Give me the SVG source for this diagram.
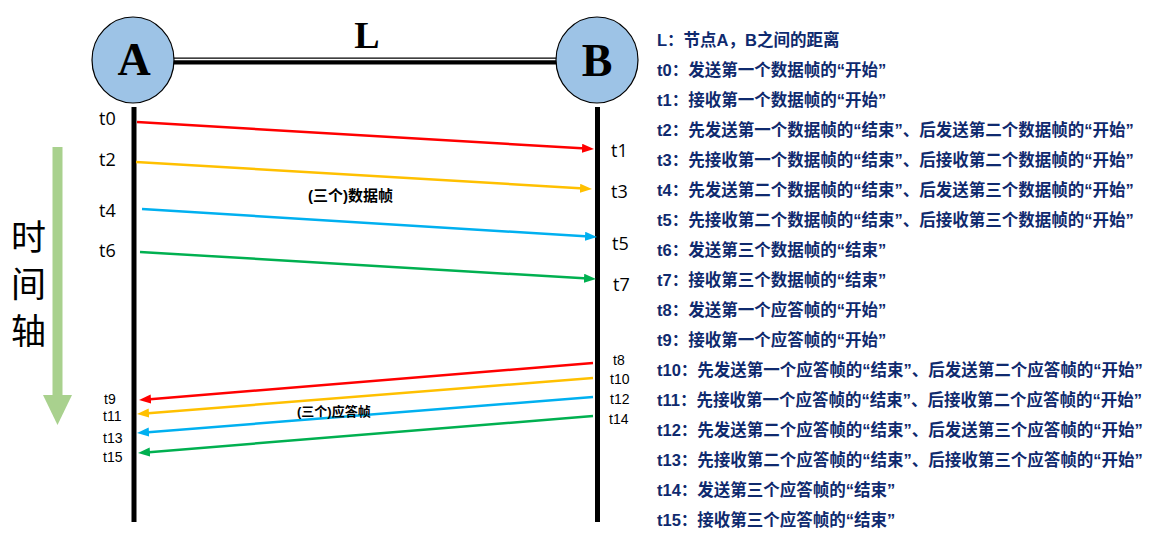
<svg xmlns="http://www.w3.org/2000/svg" width="1149" height="534" viewBox="0 0 1149 534">
<style>
.node{fill:#9DC3E6;stroke:#000;stroke-width:1.2}
.nl{font-family:"Liberation Serif",serif;font-weight:bold;fill:#000;text-anchor:middle}
.life{stroke:#000;stroke-width:5}
.arr{fill:none;stroke-width:2.5}
.tl{font-family:"Open Sans","Liberation Sans",sans-serif;fill:#000}
.big{font-size:18px}
.sm{font-family:"Liberation Sans",sans-serif;font-size:14px}
.mid{font-family:"Liberation Sans","Noto Sans CJK SC",sans-serif;font-weight:bold;fill:#000}
.leg{font-family:"Liberation Sans","Noto Sans CJK SC",sans-serif;font-weight:bold;font-size:16.5px;fill:#0f2a6e}
.axis{font-family:"Noto Sans CJK SC",sans-serif;font-size:35px;fill:#000;writing-mode:vertical-rl;letter-spacing:12px}
</style>
<defs>
<marker id="mr" markerUnits="userSpaceOnUse" markerWidth="12" markerHeight="10" refX="4" refY="4.5" orient="auto"><path d="M0,0 L12,4.5 L0,9 z" fill="#FF0000"/></marker>
<marker id="my" markerUnits="userSpaceOnUse" markerWidth="12" markerHeight="10" refX="4" refY="4.5" orient="auto"><path d="M0,0 L12,4.5 L0,9 z" fill="#FFC000"/></marker>
<marker id="mb" markerUnits="userSpaceOnUse" markerWidth="12" markerHeight="10" refX="4" refY="4.5" orient="auto"><path d="M0,0 L12,4.5 L0,9 z" fill="#00B0F0"/></marker>
<marker id="mg" markerUnits="userSpaceOnUse" markerWidth="12" markerHeight="10" refX="4" refY="4.5" orient="auto"><path d="M0,0 L12,4.5 L0,9 z" fill="#00B050"/></marker>
</defs>
<rect width="1149" height="534" fill="#fff"/>

<g id="time-axis">
<rect x="52.5" y="147" width="10" height="248" fill="#A9D18E"/>
<polygon points="43,395 72,395 57.5,425" fill="#A9D18E"/>
<text class="axis" x="28.5" y="219">时间轴</text>
</g>

<g id="link-L">
<line x1="172" y1="61" x2="557" y2="61" stroke="#000" stroke-width="7"/>
<line x1="172" y1="59.5" x2="557" y2="59.5" stroke="#fff" stroke-width="1.5"/>
<text class="nl" x="367" y="48" font-size="38">L</text>
</g>

<g id="lifelines">
<line class="life" x1="134" y1="107" x2="134" y2="522"/>
<line class="life" x1="597.5" y1="107" x2="597.5" y2="522"/>
</g>

<g id="nodeA">
<ellipse class="node" cx="133" cy="60" rx="41" ry="43"/>
<text class="nl" x="134" y="75" font-size="46">A</text>
</g>
<g id="nodeB">
<ellipse class="node" cx="597" cy="60" rx="41" ry="43"/>
<text class="nl" x="597" y="76" font-size="46">B</text>
</g>

<g id="connectors">
<path class="arr" stroke="#FF0000" marker-end="url(#mr)" d="M137,122 L586,148.5"/>
<path class="arr" stroke="#FFC000" marker-end="url(#my)" d="M136,162 L584,188.5"/>
<path class="arr" stroke="#00B0F0" marker-end="url(#mb)" d="M142,209 L589,236.5"/>
<path class="arr" stroke="#00B050" marker-end="url(#mg)" d="M140,252 L588,278.5"/>
<path class="arr" stroke="#FF0000" marker-end="url(#mr)" d="M593,363 L147,399.4"/>
<path class="arr" stroke="#FFC000" marker-end="url(#my)" d="M593,378 L145,413.4"/>
<path class="arr" stroke="#00B0F0" marker-end="url(#mb)" d="M593,397 L145,432.4"/>
<path class="arr" stroke="#00B050" marker-end="url(#mg)" d="M593,416 L146,452.4"/>
</g>

<g id="time-labels">
<text class="tl big" x="99" y="125">t0</text>
<text class="tl big" x="99" y="166">t2</text>
<text class="tl big" x="99" y="217">t4</text>
<text class="tl big" x="99" y="257">t6</text>
<text class="tl big" x="611" y="157">t1</text>
<text class="tl big" x="611" y="198">t3</text>
<text class="tl big" x="612" y="250">t5</text>
<text class="tl big" x="613" y="291">t7</text>
<text class="tl sm" x="104" y="403.5">t9</text>
<text class="tl sm" x="103" y="420.5">t11</text>
<text class="tl sm" x="103" y="443">t13</text>
<text class="tl sm" x="103" y="462">t15</text>
<text class="tl sm" x="613" y="365">t8</text>
<text class="tl sm" x="610" y="384">t10</text>
<text class="tl sm" x="610" y="404">t12</text>
<text class="tl sm" x="609" y="424">t14</text>
<text class="mid" x="308" y="200.5" font-size="15">(三个)数据帧</text>
<text class="mid" x="297" y="416" font-size="13">(三个)应答帧</text>
</g>

<g id="legend">
<text class="leg" x="657" y="46">L：节点A，B之间的距离</text>
<text class="leg" x="657" y="76">t0：发送第一个数据帧的“开始”</text>
<text class="leg" x="657" y="106">t1：接收第一个数据帧的“开始”</text>
<text class="leg" x="657" y="136">t2：先发送第一个数据帧的“结束”、后发送第二个数据帧的“开始”</text>
<text class="leg" x="657" y="166">t3：先接收第一个数据帧的“结束”、后接收第二个数据帧的“开始”</text>
<text class="leg" x="657" y="196">t4：先发送第二个数据帧的“结束”、后发送第三个数据帧的“开始”</text>
<text class="leg" x="657" y="226">t5：先接收第二个数据帧的“结束”、后接收第三个数据帧的“开始”</text>
<text class="leg" x="657" y="256">t6：发送第三个数据帧的“结束”</text>
<text class="leg" x="657" y="286">t7：接收第三个数据帧的“结束”</text>
<text class="leg" x="657" y="316">t8：发送第一个应答帧的“开始”</text>
<text class="leg" x="657" y="346">t9：接收第一个应答帧的“开始”</text>
<text class="leg" x="657" y="376">t10：先发送第一个应答帧的“结束”、后发送第二个应答帧的“开始”</text>
<text class="leg" x="657" y="406">t11：先接收第一个应答帧的“结束”、后接收第二个应答帧的“开始”</text>
<text class="leg" x="657" y="436">t12：先发送第二个应答帧的“结束”、后发送第三个应答帧的“开始”</text>
<text class="leg" x="657" y="466">t13：先接收第二个应答帧的“结束”、后接收第三个应答帧的“开始”</text>
<text class="leg" x="657" y="496">t14：发送第三个应答帧的“结束”</text>
<text class="leg" x="657" y="526">t15：接收第三个应答帧的“结束”</text>
</g>
</svg>
